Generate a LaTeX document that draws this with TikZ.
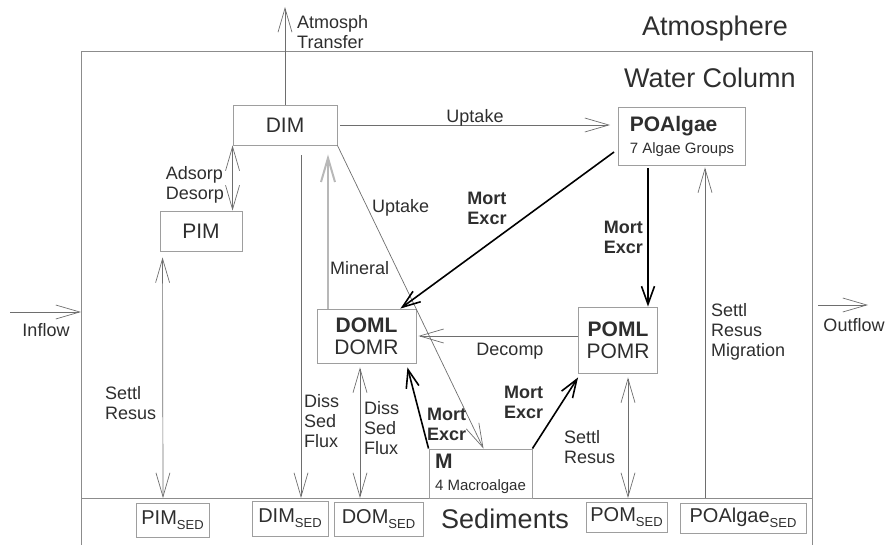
\documentclass[tikz,border=0pt]{standalone}
\usepackage{fontspec}
\setmainfont{Liberation Sans}
\usetikzlibrary{arrows.meta}

\definecolor{framegray}{HTML}{8C8C8C}
\definecolor{boxgray}{HTML}{9E9E9E}
\definecolor{linegray}{HTML}{6E6E6E}
\definecolor{mingray}{HTML}{B8B8B8}
\definecolor{txtgray}{HTML}{2E2E2E}

\newcommand{\sedsub}{\raisebox{-5pt}{\fontsize{13}{13}\selectfont SED}}

\tikzset{
  pool/.style={draw=boxgray, line width=0.9pt, inner sep=0pt, align=center,
    text=txtgray, font=\fontsize{21}{22}\selectfont},
  sedpool/.style={pool, font=\fontsize{20}{22}\selectfont},
  flux/.style={draw=linegray, line width=0.7pt},
  bigflux/.style={draw=black, line width=1.6pt},
  lbl/.style={text=txtgray, inner sep=0pt, align=left, font=\fontsize{18}{20}\selectfont},
  boldlbl/.style={lbl, font=\fontsize{18}{20}\selectfont\bfseries},
  zone/.style={text=txtgray, inner sep=0pt, font=\fontsize{27}{30}\selectfont},
  barb/.tip={Straight Barb[length=24pt,width=14pt]},
  heavybarb/.tip={Straight Barb[length=18pt,width=13pt]},
}

\begin{document}
\begin{tikzpicture}[x=1pt, y=-1pt]
  \useasboundingbox (0,0) rectangle (887,545);

  % --- Frame: water column over the sediment layer ---
  \draw[framegray, line width=0.9pt] (81,545) -- (81,51) -- (812,51) -- (812,545);
  \draw[framegray, line width=0.9pt] (81,498) -- (812,498);

  % --- Zone titles ---
  \node[zone] (atmos) at (715,29) {Atmosphere};
  \node[zone] (water) at (710,78) {Water Column};
  \node[zone] (sedim) at (505,519) {Sediments};

  % --- Water column pools ---
  \node[pool, minimum width=104pt, minimum height=40pt] (DIM) at (285,125) {DIM};
  \node[pool, minimum width=82pt, minimum height=40pt] (PIM) at (201,231) {PIM};
  \node[pool, align=left, minimum width=127pt, minimum height=58pt] (POA) at (682,136)
    {{\bfseries POAlgae}\\{\fontsize{15}{17}\selectfont 7 Algae Groups}};
  \node[pool, minimum width=99pt, minimum height=54pt] (DOM) at (366.5,336)
    {{\bfseries DOML}\\DOMR};
  \node[pool, minimum width=79pt, minimum height=66pt] (POM) at (618,340)
    {{\bfseries POML}\\POMR};
  \node[pool, align=left, minimum width=103pt, minimum height=49pt] (MAC) at (480.5,473.5)
    {{\bfseries M}\\{\fontsize{15}{17}\selectfont 4 Macroalgae}};

  % --- Sediment pools ---
  \node[sedpool, minimum width=73pt, minimum height=34pt] (PIMsed) at (172.5,520) {PIM\sedsub};
  \node[sedpool, minimum width=76pt, minimum height=35pt] (DIMsed) at (290,518.5) {DIM\sedsub};
  \node[sedpool, minimum width=89pt, minimum height=34pt] (DOMsed) at (378.5,519) {DOM\sedsub};
  \node[sedpool, minimum width=81pt, minimum height=30pt] (POMsed) at (626.5,517) {POM\sedsub};
  \node[sedpool, minimum width=126pt, minimum height=30pt] (POAsed) at (743,518) {POAlgae\sedsub};

  % --- Free ends of the fluxes ---
  \coordinate (atmT) at (285,7);
  \coordinate (pimS) at (163,498);
  \coordinate (dimS) at (301,498);
  \coordinate (domS) at (360,498);
  \coordinate (pomS) at (628,498);
  \coordinate (poaS) at (705,498);
  \coordinate (inA) at (10,312);
  \coordinate (inB) at (81,312);
  \coordinate (outA) at (818,305);
  \coordinate (outB) at (868,305);

  % --- Thin fluxes ---
  \draw[flux, -barb] (DIM.north) -- (atmT);
  \draw[flux, -barb] ([xshift=3pt]DIM.east) -- ([xshift=-8pt]DIM.east -| POA.west);
  \draw[flux, barb-barb] (DIM.south west) -- (DIM.south west |- PIM.north);
  \draw[flux, barb-barb] ([xshift=3pt,yshift=-6pt]PIM.south west) -- (pimS);
  \draw[flux, -barb] ([xshift=16pt,yshift=-10pt]DIM.south) -- (dimS);
  \draw[flux, -barb] (DIM.south east) -- ([xshift=3pt]MAC.north);
  \draw[flux, -barb] (DOM.east -| POM.west) -- ([xshift=2pt]DOM.east);
  \draw[flux, barb-barb] ([xshift=-6.5pt,yshift=-4pt]DOM.south) -- (domS);
  \draw[flux, barb-barb] ([xshift=10pt,yshift=-4pt]POM.south) -- (pomS);
  \draw[flux, barb-] ([xshift=23pt,yshift=-2pt]POA.south) -- (poaS);
  \draw[flux, -barb] (inA) -- (inB);
  \draw[flux, -barb] (outA) -- (outB);

  % --- Mineralisation (light grey) ---
  \draw[draw=mingray, line width=2pt, -barb] ([xshift=-38.5pt]DOM.north) -- ([xshift=43pt,yshift=-9pt]DIM.south);

  % --- Mortality and excretion (bold) ---
  \draw[bigflux, -heavybarb] ([xshift=-4pt,yshift=-16pt]POA.west) -- ([xshift=-16pt]DOM.north east);
  \draw[bigflux, -heavybarb] ([xshift=-34pt,yshift=-3pt]POA.south) -- ([xshift=30pt]POM.north);
  \draw[bigflux, -heavybarb] (MAC.north west) -- ([xshift=-9pt,yshift=-4pt]DOM.south east);
  \draw[bigflux, -heavybarb] (MAC.north east) -- ([yshift=-4pt]POM.south west);

  % --- Flux labels ---
  \node[lbl, anchor=west] (lAtm) at (297,32) {Atmosph\\Transfer};
  \node[lbl] (lUp1) at (475,118) {Uptake};
  \node[lbl, anchor=east] (lAds) at (224,185) {Adsorp\\Desorp};
  \node[lbl, anchor=west] (lSet1) at (105,403) {Settl\\Resus};
  \node[lbl, anchor=west] (lDiss1) at (304,421) {Diss\\Sed\\Flux};
  \node[lbl, anchor=west] (lDiss2) at (364,428) {Diss\\Sed\\Flux};
  \node[lbl, anchor=west] (lMin) at (330,268) {Mineral};
  \node[lbl, anchor=west] (lUp2) at (372,208) {Uptake};
  \node[lbl] (lDec) at (510,351) {Decomp};
  \node[lbl, anchor=west] (lSet2) at (564,447) {Settl\\Resus};
  \node[lbl, anchor=west] (lSet3) at (711,332) {Settl\\Resus\\Migration};
  \node[lbl] (lIn) at (46,330) {Inflow};
  \node[lbl] (lOut) at (854,325) {Outflow};
  \node[boldlbl] (lMort1) at (487,208) {Mort\\Excr};
  \node[boldlbl, anchor=east] (lMort2) at (643,237) {Mort\\Excr};
  \node[boldlbl, anchor=west] (lMort3) at (427,424) {Mort\\Excr};
  \node[boldlbl, anchor=west] (lMort4) at (504,402) {Mort\\Excr};

\end{tikzpicture}
\end{document}
